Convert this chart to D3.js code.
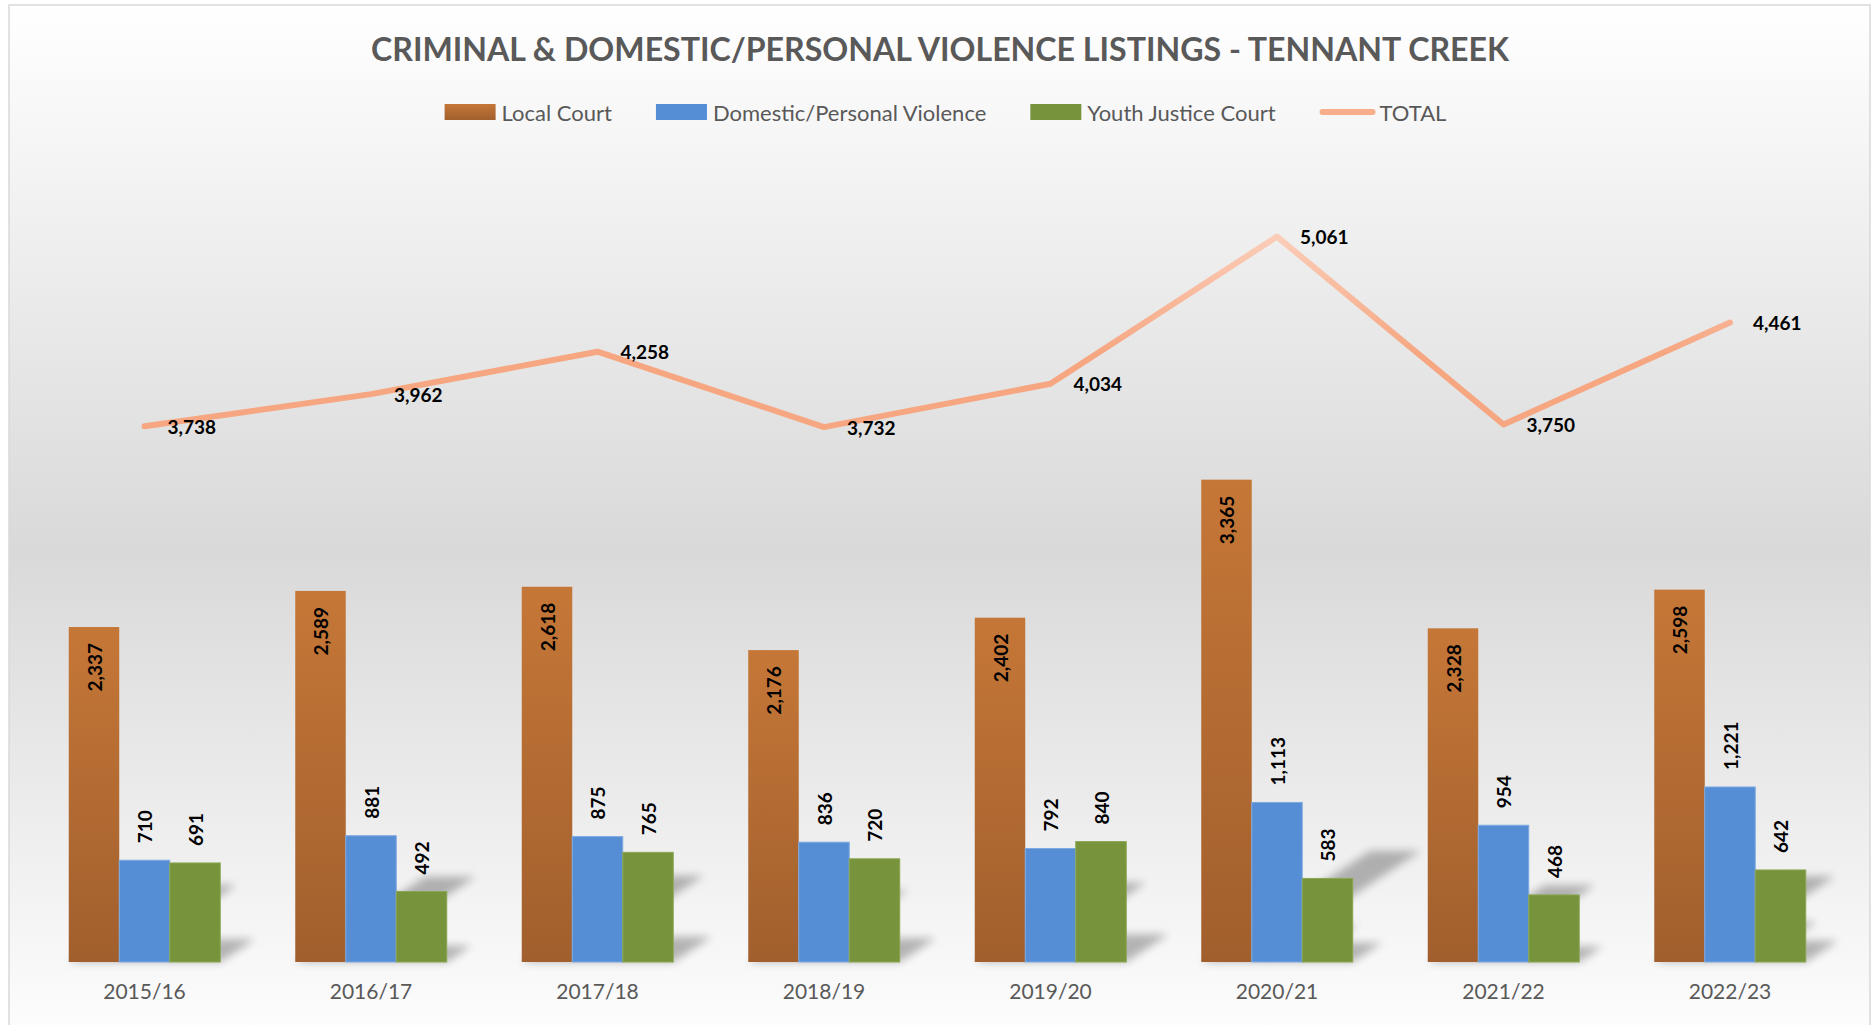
<!DOCTYPE html>
<html>
<head>
<meta charset="utf-8">
<script src="https://cdn.jsdelivr.net/npm/d3@7"></script>
<style>
  html, body { margin: 0; padding: 0; background: #fff; }
  svg { display: block; font-family: Lato, "Open Sans", sans-serif; }
</style>
</head>
<body>
<svg id="chart" width="1872" height="1025"></svg>
<script>
  // data
  const years = ['2015/16', '2016/17', '2017/18', '2018/19', '2019/20', '2020/21', '2021/22', '2022/23'];
  const localCourt = [2337, 2589, 2618, 2176, 2402, 3365, 2328, 2598];
  const domesticViolence = [710, 881, 875, 836, 792, 1113, 954, 1221];
  const youthJustice = [691, 492, 765, 720, 840, 583, 468, 642];
  const totals = [3738, 3962, 4258, 3732, 4034, 5061, 3750, 4461];
  const seriesNames = ['Local Court', 'Domestic/Personal Violence', 'Youth Justice Court', 'TOTAL'];

  const W = 1872, H = 1025;
  const svg = d3.select('#chart');
  const defs = svg.append('defs');

  function gradient(id, stops, attrs) {
    let g = defs.append('linearGradient').attr('id', id);
    Object.keys(attrs).forEach(k => g.attr(k, attrs[k]));
    stops.forEach(s => g.append('stop').attr('offset', s[0]).attr('stop-color', s[1]));
    return g;
  }

  gradient('bgGrad', [[0, '#ffffff'], [0.53, '#d9d9d9'], [1, '#fdfdfd']], {x1: 0, y1: 0, x2: 0, y2: 1});
  gradient('localGrad', [[0, '#c57737'], [1, '#a15f2d']], {x1: 0, y1: 0, x2: 0, y2: 1});

  let blur = defs.append('filter').attr('id', 'shadowBlur')
    .attr('x', '-50%').attr('y', '-50%').attr('width', '200%').attr('height', '200%');
  blur.append('feGaussianBlur').attr('stdDeviation', 4.5);

  // chart area
  svg.append('rect').attr('width', W).attr('height', H).attr('fill', '#fff');
  svg.append('rect')
    .attr('x', 9).attr('y', 5).attr('width', 1861).attr('height', 1030)
    .attr('fill', 'url(#bgGrad)')
    .attr('stroke', '#d9d9d9').attr('stroke-width', 1.5);

  // scales
  const x = d3.scaleBand().domain(years).range([31.25, 1843.25]);
  const groupW = 151.5;
  const xs = d3.scaleBand().domain(seriesNames.slice(0, 3)).range([0, groupW]);
  const y = d3.scaleLinear().domain([0, 6000]).range([962, 102]);

  gradient('lineGrad', [[0, '#fbcdb8'], [1, '#f6a782']],
    {gradientUnits: 'userSpaceOnUse', x1: 0, y1: y(5061), x2: 0, y2: y(4250)});

  const colors = {
    'Local Court': 'url(#localGrad)',
    'Domestic/Personal Violence': '#558ed5',
    'Youth Justice Court': '#77933c'
  };
  const edge = {
    'Local Court': 'none',
    'Domestic/Personal Violence': '#7eaae2',
    'Youth Justice Court': '#8aa653'
  };

  const seriesValues = [localCourt, domesticViolence, youthJustice];
  let bars = [];
  years.forEach((yr, i) => {
    seriesValues.forEach((vals, s) => {
      bars.push({year: yr, key: seriesNames[s], value: vals[i]});
    });
  });
  const barX = d => x(d.year) + (x.bandwidth() - groupW) / 2 + xs(d.key);

  // perspective shadow behind each bar
  const shadows = svg.append('g').attr('filter', 'url(#shadowBlur)').attr('opacity', 0.27);
  shadows.selectAll('path').data(bars).enter().append('path')
    .attr('fill', '#000')
    .attr('d', d => {
      let x0 = barX(d), x1 = x0 + xs.bandwidth(), b = y(0);
      let h = y(0) - y(d.value);
      let dx = 0.35 * h, top = b - 0.23 * h;
      return `M${x0},${b}L${x1},${b}L${x1 + dx},${top}L${x0 + dx},${top}Z`;
    });

  // bars
  svg.append('g').selectAll('rect').data(bars).enter().append('rect')
    .attr('x', barX)
    .attr('y', d => y(d.value))
    .attr('width', xs.bandwidth())
    .attr('height', d => y(0) - y(d.value))
    .attr('fill', d => colors[d.key])
    .attr('stroke', d => edge[d.key])
    .attr('stroke-width', 1);

  // x axis, labels only
  const axis = svg.append('g').attr('transform', `translate(0,${y(0)})`)
    .call(d3.axisBottom(x).tickSize(0).tickPadding(0));
  axis.select('.domain').remove();
  axis.selectAll('text')
    .attr('y', 30).attr('dy', '0.35em')
    .attr('fill', '#595959')
    .style('font-family', 'Lato, sans-serif')
    .style('font-size', '21px');

  // total line
  const line = d3.line()
    .x((d, i) => x(years[i]) + x.bandwidth() / 2)
    .y(d => y(d));
  svg.append('path').datum(totals)
    .attr('d', line)
    .attr('fill', 'none')
    .attr('stroke', 'url(#lineGrad)')
    .attr('stroke-width', 6)
    .attr('stroke-linecap', 'round')
    .attr('stroke-linejoin', 'round');

  const fmt = d3.format(',');

  // bar labels, rotated
  svg.append('g').selectAll('text').data(bars).enter().append('text')
    .attr('transform', d => {
      let cx = barX(d) + xs.bandwidth() / 2;
      let ty = d.key === 'Local Court' ? y(d.value) + 16 : y(d.value) - 17;
      return `translate(${cx},${ty}) rotate(-90)`;
    })
    .attr('text-anchor', d => d.key === 'Local Court' ? 'end' : 'start')
    .attr('dominant-baseline', 'central')
    .attr('fill', '#000')
    .style('font-weight', 700)
    .style('font-size', '19px')
    .text(d => fmt(d.value));

  // total labels, right of the point
  svg.append('g').selectAll('text').data(totals).enter().append('text')
    .attr('x', (d, i) => x(years[i]) + x.bandwidth() / 2 + 23)
    .attr('y', d => y(d))
    .attr('dominant-baseline', 'central')
    .attr('fill', '#000')
    .style('font-weight', 700)
    .style('font-size', '19px')
    .text(d => fmt(d));

  // title
  svg.append('text')
    .attr('x', 940).attr('y', 61)
    .attr('text-anchor', 'middle')
    .attr('fill', '#595959')
    .attr('textLength', 1138)
    .attr('lengthAdjust', 'spacingAndGlyphs')
    .style('font-weight', 700)
    .style('font-size', '33px')
    .text('CRIMINAL & DOMESTIC/PERSONAL VIOLENCE LISTINGS - TENNANT CREEK');

  // legend
  const legend = svg.append('g');
  const swW = 51, gapText = 6, gapItem = 44, legY = 112;
  let items = seriesNames.map(name => {
    let g = legend.append('g');
    if (name === 'TOTAL') {
      g.append('line').attr('x1', 3).attr('x2', swW + 2).attr('y1', legY).attr('y2', legY)
        .attr('stroke', '#f8ae8b').attr('stroke-width', 6).attr('stroke-linecap', 'round');
    } else {
      g.append('rect').attr('x', 0).attr('y', legY - 8).attr('width', swW).attr('height', 16)
        .attr('fill', colors[name]);
    }
    let t = g.append('text')
      .attr('x', swW + gapText + (name === 'TOTAL' ? 3 : 0)).attr('y', legY)
      .attr('dominant-baseline', 'central')
      .attr('fill', '#595959')
      .style('font-size', '22px')
      .text(name);
    return {g: g, w: swW + gapText + t.node().getComputedTextLength()};
  });
  let total = d3.sum(items, d => d.w) + gapItem * (items.length - 1);
  let cur = 944 - total / 2;
  items.forEach(it => {
    it.g.attr('transform', `translate(${cur},0)`);
    cur += it.w + gapItem;
  });
</script>
</body>
</html>
